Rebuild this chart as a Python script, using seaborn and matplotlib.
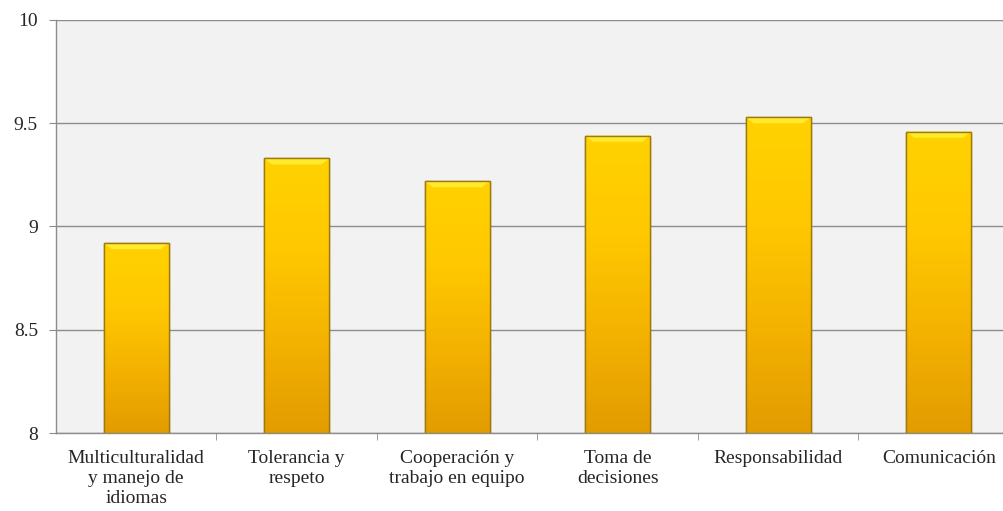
import matplotlib
matplotlib.use("Agg")
import matplotlib.pyplot as plt
from matplotlib.colors import LinearSegmentedColormap
from matplotlib.ticker import FixedLocator
import seaborn as sns
import numpy as np
import pandas as pd

categories = ["Multiculturalidad\ny manejo de\nidiomas", "Tolerancia y\nrespeto",
              "Cooperación y\ntrabajo en equipo", "Toma de\ndecisiones",
              "Responsabilidad", "Comunicación"]
values = [8.92, 9.33, 9.22, 9.44, 9.53, 9.46]
yticks = [8, 8.5, 9, 9.5, 10]
yticklabels = ["8", "8.5", "9", "9.5", "10"]

sns.set_style("white")
plt.rcParams['font.family'] = ['Liberation Serif', 'DejaVu Serif']

df = pd.DataFrame({'cat': categories, 'val': values})

fig = plt.figure(figsize=(10.04, 5.11), dpi=100)
ax = fig.add_axes([56 / 1004, 1 - 433 / 511, 963 / 1004, 413 / 511])
ax.set_facecolor('#F2F2F2')

sns.barplot(data=df, x='cat', y='val', color='#FFC800', width=0.405,
            edgecolor='#9C7A10', linewidth=1.0, ax=ax, zorder=3)

# gold gradient inside every bar
gold = LinearSegmentedColormap.from_list('gold', ['#E29C00', '#F4B200', '#FFC800', '#FFD200'])
grad = np.linspace(0, 1, 256).reshape(-1, 1)
for p in ax.patches:
    x0, y0 = p.get_x(), p.get_y()
    w, h = p.get_width(), p.get_height()
    im = ax.imshow(grad, cmap=gold, origin='lower', aspect='auto',
                   extent=[x0, x0 + w, 8, y0 + h], zorder=3.5)
    im.set_clip_path(p)
    # bevel highlight at the top
    top = y0 + h
    ax.fill([x0, x0 + w, x0 + w * 0.88, x0 + w * 0.12], [top, top, top - 0.03, top - 0.03],
            color='#FFEA2E', zorder=3.6, lw=0)
    ax.add_patch(plt.Rectangle((x0, 8), w, top - 8, fill=False,
                               edgecolor='#9C7A10', lw=1.0, zorder=3.7))

ax.set_xlim(-0.5, len(categories) - 0.5)
ax.set_ylim(8, 10)
ax.set_yticks(yticks)
ax.set_yticklabels(yticklabels, fontsize=14)
ax.yaxis.grid(True, color='#8C8C8C', lw=1.0)
ax.set_axisbelow(True)
ax.set_xlabel('')
ax.set_ylabel('')

ax.tick_params(axis='x', which='major', length=0, labelsize=14, pad=12)
for lab in ax.get_xticklabels():
    lab.set_linespacing(1.25)
ax.xaxis.set_minor_locator(FixedLocator(np.arange(0.5, len(categories) - 0.5, 1)))
ax.tick_params(axis='x', which='minor', length=5, color='#8C8C8C', direction='out', bottom=True)
ax.tick_params(axis='y', length=5, color='#8C8C8C', direction='out', left=True, pad=8)

for s in ['top', 'right']:
    ax.spines[s].set_visible(False)
for s in ['left', 'bottom']:
    ax.spines[s].set_color('#8C8C8C')
    ax.spines[s].set_linewidth(1.0)

fig.savefig('out.png', dpi=100)
